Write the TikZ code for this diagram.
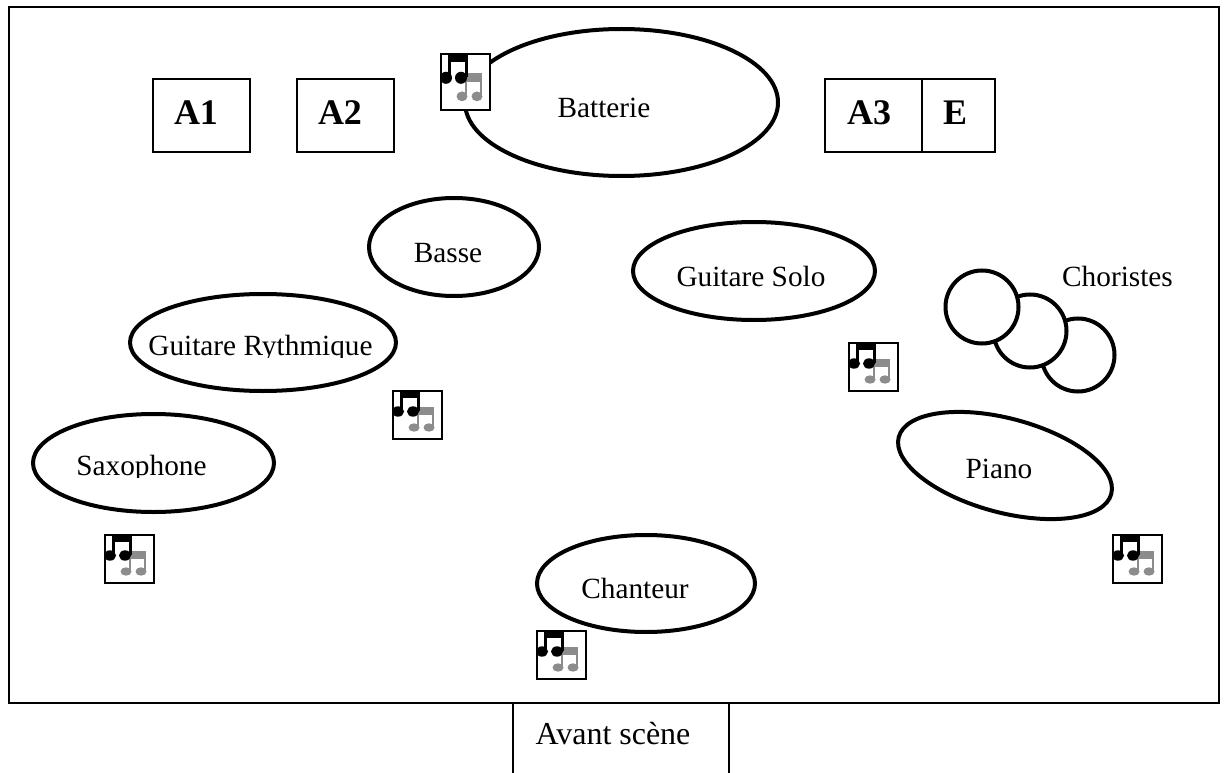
\documentclass[tikz,border=0pt]{standalone}
\usepackage{fontspec}
\setmainfont{Liberation Serif}
\usetikzlibrary{shapes.geometric}
\usetikzlibrary{positioning}

\tikzset{
    stand/.style={draw, ellipse, line width=4pt, fill=white, inner sep=0pt, outer sep=0pt},
    singer/.style={draw, circle, line width=4pt, fill=white, inner sep=0pt, outer sep=0pt, minimum size=73pt},
    ampbox/.style={draw, line width=2pt, inner sep=0pt, outer sep=0pt, minimum height=73pt},
    lbl/.style={inner sep=0pt, anchor=base, font=\fontsize{29.3}{32}\selectfont},
    amplbl/.style={inner sep=0pt, anchor=base, font=\fontsize{36}{38}\selectfont\bfseries},
    noteicon/.pic={
        \draw[line width=1.8pt, fill=white] (0,0) rectangle (49,48);
        % grey notes
        \fill[black!45] (23.5,16) rectangle (41,24);
        \fill[black!45] (24,16) rectangle (26,36);
        \fill[black!45] (39,16) rectangle (41,36);
        \fill[black!45] (21,36.5) ellipse (5.5 and 4.2);
        \fill[black!45] (36,36.5) ellipse (5.5 and 4.2);
        % black notes
        \fill[black] (7,0) rectangle (26.5,7);
        \fill[black] (7,0) rectangle (10,20);
        \fill[black] (23.5,0) rectangle (26.5,20);
        \fill[black] (5,20.5) ellipse (6 and 5.2);
        \fill[black] (20,20.5) ellipse (6 and 5.2);
    }
}

\begin{document}
\begin{tikzpicture}[x=1pt, y=-1pt]
    \useasboundingbox (0,0) rectangle (1229,773);

    % stage
    \draw[line width=2pt] (9,703) -- (9,7) -- (1219,7) -- (1219,703) -- cycle;
    \coordinate (frontleft) at (513,703);
    \coordinate (frontright) at (729,703);
    \draw[line width=1.8pt] (frontleft) -- (513,773);
    \draw[line width=1.8pt] (frontright) -- (729,773);
    \node[lbl, font=\fontsize{32}{35}\selectfont] (front) at (613,744) {Avant scène};

    % amplis
    \node[ampbox, minimum width=97pt] (a1) at (201.5,115.5) {};
    \node[ampbox, minimum width=97pt] (a2) at (345.5,115.5) {};
    \node[ampbox, minimum width=97pt] (a3) at (873.5,115.5) {};
    \node[ampbox, minimum width=73pt, right=0pt of a3] (e) {};
    \node[amplbl] at (196,125) {A1};
    \node[amplbl] at (340,125) {A2};
    \node[amplbl] at (869,125) {A3};
    \node[amplbl] at (955,125) {E};

    % musicians
    \node[stand, minimum width=313pt, minimum height=147pt] (batterie) at (621.5,102.5) {};
    \node[stand, minimum width=170pt, minimum height=98pt] (basse) at (454,247) {};
    \node[stand, minimum width=242pt, minimum height=98pt] (solo) at (754,271) {};
    \node[stand, minimum width=266pt, minimum height=97pt] (rythmique) at (263,342.5) {};
    \node[stand, minimum width=241pt, minimum height=98pt] (saxo) at (153.5,463) {};
    \node[stand, minimum width=218pt, minimum height=97pt] (chanteur) at (646,583.5) {};
    \node[stand, minimum width=220pt, minimum height=94pt, rotate=-15] (piano) at (1005,465.5) {};

    \node[lbl] at (604,118) {Batterie};
    \node[lbl] at (448,262) {Basse};
    \node[lbl] at (751,286) {Guitare Solo};
    \node[lbl] at (999,478) {Piano};
    \node[lbl] at (635,598) {Chanteur};

    % descenders are cut off in these two
    \begin{scope}
        \clip (130,320) rectangle (396,357);
        \node[lbl] at (260.5,355) {Guitare Rythmique};
    \end{scope}
    \begin{scope}
        \clip (33,440) rectangle (274,477.5);
        \node[lbl] at (141.5,475) {Saxophone};
    \end{scope}

    % choir
    \node[singer] (c3) at (1078,355) {};
    \node[singer] (c2) at (1030,331) {};
    \node[singer] (c1) at (982,307) {};
    \node[lbl] at (1117.5,286) {Choristes};

    % retours
    \foreach \x/\y in {105/535, 393/391, 849/343, 1113/535, 537/631} {
        \pic at (\x,\y) {noteicon};
    }
    \pic[yscale=1.16] at (441,54) {noteicon};
\end{tikzpicture}
\end{document}
